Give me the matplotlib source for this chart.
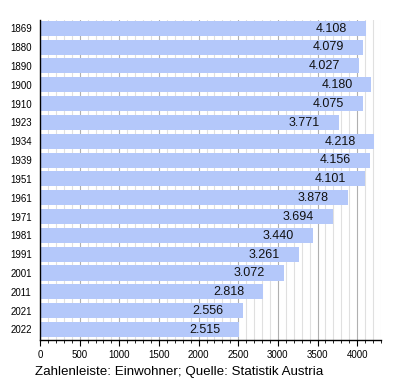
import matplotlib
matplotlib.use("Agg")
import matplotlib.pyplot as plt
from matplotlib.ticker import MultipleLocator

years = ["1869", "1880", "1890", "1900", "1910", "1923", "1934", "1939", "1951",
         "1961", "1971", "1981", "1991", "2001", "2011", "2021", "2022"]
population = [4108, 4079, 4027, 4180, 4075, 3771, 4218, 4156, 4101,
              3878, 3694, 3440, 3261, 3072, 2818, 2556, 2515]
caption = "Zahlenleiste: Einwohner; Quelle: Statistik Austria"

plt.rcParams['font.family'] = ['Liberation Sans', 'DejaVu Sans']

fig = plt.figure(figsize=(4, 3.8), dpi=100)
ax = fig.add_axes([0.1, 1 - 340 / 380, 0.9525 - 0.1, 320 / 380])

pos = [i + 0.04 for i in range(len(years))]
ax.barh(pos, population, height=0.8, align='edge', color='#b4c8fa', zorder=2)
for p, v in zip(pos, population):
    s = f"{v:,}".replace(",", ".")
    ax.text(v - 240, p + 0.42, s, ha='right', va='center', fontsize=9, color='#111111', zorder=3)

ax.set_ylim(len(years), 0)
ax.set_xlim(0, 4300)
ax.set_yticks([p + 0.4 for p in pos])
ax.set_yticklabels(years, fontsize=7)
ax.tick_params(axis='y', length=0, pad=6)
ax.xaxis.set_major_locator(MultipleLocator(500))
ax.xaxis.set_minor_locator(MultipleLocator(100))
ax.tick_params(axis='x', which='major', length=4, labelsize=7, direction='out', pad=3)
ax.tick_params(axis='x', which='minor', length=2, direction='out')
ax.grid(axis='x', which='major', color='#b0b0b0', linewidth=0.8, zorder=0)
ax.grid(axis='x', which='minor', color='#e0e0e0', linewidth=0.8, zorder=0)
for side in ['top', 'right']:
    ax.spines[side].set_visible(False)
ax.spines['left'].set_linewidth(1)
ax.spines['bottom'].set_linewidth(1)

fig.text(35 / 400, 1 - 372 / 380, caption, fontsize=9.6, ha='left', va='center')

fig.savefig("out.png", dpi=100)
